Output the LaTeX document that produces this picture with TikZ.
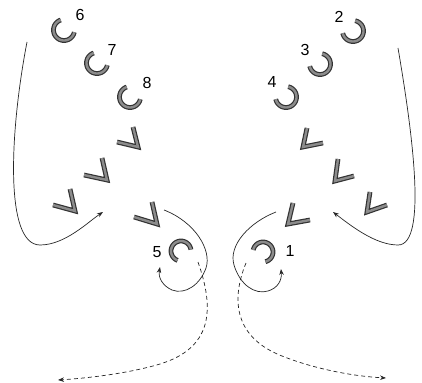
\documentclass[tikz,border=0pt]{standalone}
\usepackage{fontspec}
\setmainfont{Liberation Sans}
\usetikzlibrary{arrows.meta}
\begin{document}
\begin{tikzpicture}[x=1pt,y=-1pt,
  shp/.style={draw=black!80, line width=1.2pt, double=black!45, double distance=2.4pt, line join=miter},
  lbl/.style={font=\fontsize{16}{16}\selectfont, inner sep=0pt},
  conn/.style={draw=black!85, line width=0.7pt, -{Stealth[length=6pt,width=4.5pt]}},
  dconn/.style={conn, dash pattern=on 4pt off 3pt}]
\useasboundingbox (0,0) rectangle (422,382);
% U shapes (left)
\draw[shp] plot[smooth, domain=12:252, samples=30] ({64+10.5*cos(\x)},{30+10.5*sin(\x)});
\draw[shp] plot[smooth, domain=12:252, samples=30] ({97+10.5*cos(\x)},{63+10.5*sin(\x)});
\draw[shp] plot[smooth, domain=12:252, samples=30] ({130+10.5*cos(\x)},{97+10.5*sin(\x)});
% U shapes (right)
\draw[shp] plot[smooth, domain=-78:168, samples=30] ({353+10.5*cos(\x)},{31+10.5*sin(\x)});
\draw[shp] plot[smooth, domain=-78:168, samples=30] ({320+10.5*cos(\x)},{64+10.5*sin(\x)});
\draw[shp] plot[smooth, domain=-78:168, samples=30] ({286+10.5*cos(\x)},{97+10.5*sin(\x)});
% U5 and U1
\draw[shp] plot[smooth, domain=110:352, samples=30] ({181+10*cos(\x)},{251+10*sin(\x)});
\draw[shp] plot[smooth, domain=192:436, samples=30] ({263+10*cos(\x)},{252+10*sin(\x)});
% labels
\node[lbl] (l6) at (80,14.5) {6};
\node[lbl] (l7) at (112,50) {7};
\node[lbl] (l8) at (147,83) {8};
\node[lbl] (l2) at (339,17) {2};
\node[lbl] (l3) at (305,50) {3};
\node[lbl] (l4) at (272,82) {4};
\node[lbl] (l5) at (157,252) {5};
\node[lbl] (l1) at (290,251) {1};
% V shapes (left)
\draw[shp] (133,127) -- (138,147) -- (117,142);
\draw[shp] (102,158) -- (107,180) -- (84,175);
\draw[shp] (70,189) -- (75,211) -- (53,205);
\draw[shp] (152,202) -- (157,224) -- (134,217);
% V shapes (right)
\draw[shp] (307,128) -- (303,147) -- (323,143);
\draw[shp] (338,159) -- (335,181) -- (354,176);
\draw[shp] (370,192) -- (367,212) -- (387,205);
\draw[shp] (293,203) -- (288,224) -- (310,220);
% arrow targets
\coordinate (tL) at (103,212);
\coordinate (tR) at (333,212);
\coordinate (t5) at (160,267);
\coordinate (t1) at (281,269);
\coordinate (dL) at (58,380);
\coordinate (dR) at (386,378);
% long curves
\draw[conn] (27,42) .. controls (10,130) and (4,245) .. (40,245) .. controls (65,245) and (88,222) .. (tL);
\draw[conn] (398,48) .. controls (412,130) and (428,245) .. (398,245) .. controls (375,245) and (350,225) .. (tR);
% loops
\draw[conn] (164,210) .. controls (195,222) and (212,250) .. (206,268) .. controls (200,285) and (185,295) .. (172,290) .. controls (163,286) and (158,278) .. (t5);
\draw[conn] (276,212) .. controls (250,222) and (228,245) .. (234,265) .. controls (240,285) and (255,295) .. (268,291) .. controls (278,288) and (282,280) .. (t1);
% dashed
\draw[dconn] (198,262) .. controls (215,310) and (212,348) .. (160,364) .. controls (130,373) and (90,378) .. (dL);
\draw[dconn] (246,263) .. controls (230,302) and (236,338) .. (282,356) .. controls (312,368) and (350,376) .. (dR);
\end{tikzpicture}
\end{document}
